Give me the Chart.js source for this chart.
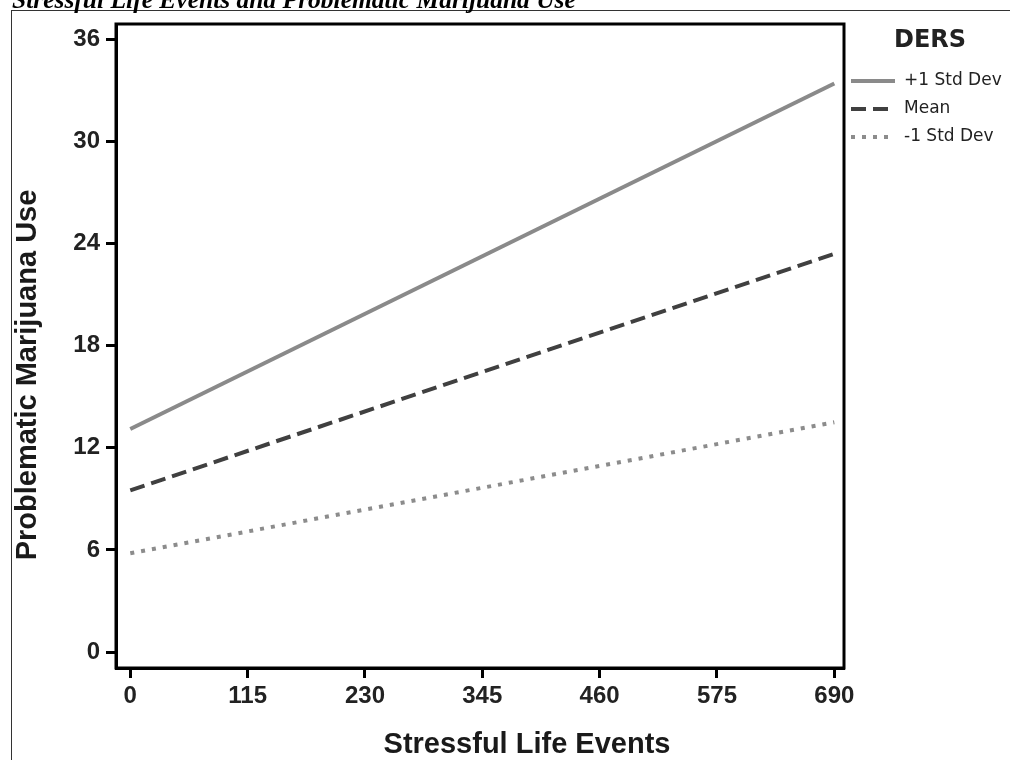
<!DOCTYPE html>
<html>
<head>
<meta charset="utf-8">
<script src="https://cdn.jsdelivr.net/npm/chart.js@4/dist/chart.umd.min.js"></script>
<style>
  html, body { margin: 0; padding: 0; background: #fff; }
  #wrap { width: 1010px; height: 760px; position: relative; }
</style>
</head>
<body>
<div id="wrap"><canvas id="c" width="1010" height="760"></canvas></div>
<script>
// ---- data ----
const titleText = "Stressful Life Events and Problematic Marijuana Use";
const xTitle = "Stressful Life Events";
const yTitle = "Problematic Marijuana Use";
const legendTitle = "DERS";
const seriesNames = ["+1 Std Dev", "Mean", "-1 Std Dev"];
const stressX = [0, 690];
const plusOneSD = [13.1, 33.4];
const meanVals = [9.5, 23.4];
const minusOneSD = [5.8, 13.5];
const xTicks = [0, 115, 230, 345, 460, 575, 690];
const yTicks = [0, 6, 12, 18, 24, 30, 36];

const tickFont = { family: "'Liberation Sans', Arial, sans-serif", size: 24, weight: 'bold' };

function pts(ys) { return stressX.map((x, i) => ({ x: x, y: ys[i] })); }

const framePlugin = {
  id: 'frame',
  afterDraw(chart) {
    const ctx = chart.ctx;
    const a = chart.chartArea;
    ctx.save();
    // outer page border
    ctx.strokeStyle = '#333';
    ctx.lineWidth = 1;
    ctx.strokeRect(11.5, 10.5, 1010, 760);
    // plot frame
    ctx.strokeStyle = '#000';
    ctx.lineWidth = 3;
    ctx.strokeRect(a.left, a.top, a.right - a.left, a.bottom - a.top);
    // title (cut at top)
    ctx.fillStyle = '#000';
    ctx.font = "italic bold 25.5px 'Liberation Serif', 'Times New Roman', serif";
    ctx.textBaseline = 'alphabetic';
    ctx.textAlign = 'left';
    ctx.fillText(titleText, 12, 8);
    // axis titles
    ctx.fillStyle = '#1a1a1a';
    ctx.font = "bold 29px 'Liberation Sans', Arial, sans-serif";
    ctx.textAlign = 'center';
    ctx.fillText(xTitle, 527, 753);
    ctx.save();
    ctx.translate(36, 375);
    ctx.rotate(-Math.PI / 2);
    ctx.fillText(yTitle, 0, 0);
    ctx.restore();
    // legend
    ctx.font = "bold 24px 'DejaVu Sans', sans-serif";
    ctx.fillStyle = '#222';
    ctx.textAlign = 'center';
    ctx.textBaseline = 'middle';
    ctx.fillText(legendTitle, 930, 41);
    ctx.font = "17px 'DejaVu Sans', sans-serif";
    ctx.textAlign = 'left';
    chart.data.datasets.forEach((ds, i) => {
      const y = 81 + i * 28;
      ctx.save();
      ctx.strokeStyle = ds.borderColor;
      ctx.lineWidth = ds.borderWidth;
      ctx.setLineDash(ds.borderDash || []);
      ctx.beginPath();
      ctx.moveTo(851, y);
      ctx.lineTo(895, y);
      ctx.stroke();
      ctx.restore();
      ctx.fillStyle = '#222';
      ctx.fillText(ds.label, 904, y);
    });
    ctx.restore();
  }
};

new Chart(document.getElementById('c'), {
  type: 'line',
  data: {
    datasets: [
      { label: seriesNames[0], data: pts(plusOneSD), borderColor: '#8a8a8a', borderWidth: 4, borderDash: [], pointRadius: 0, fill: false, borderCapStyle: 'butt' },
      { label: seriesNames[1], data: pts(meanVals), borderColor: '#404040', borderWidth: 4, borderDash: [15, 7], pointRadius: 0, fill: false, borderCapStyle: 'butt' },
      { label: seriesNames[2], data: pts(minusOneSD), borderColor: '#8c8c8c', borderWidth: 4, borderDash: [4, 7], pointRadius: 0, fill: false, borderCapStyle: 'butt' }
    ]
  },
  options: {
    responsive: false,
    animation: false,
    devicePixelRatio: 1,
    layout: { padding: { left: 0, top: 24, right: 166, bottom: 0 } },
    plugins: { legend: { display: false }, tooltip: { enabled: false }, title: { display: false } },
    scales: {
      x: {
        type: 'linear',
        min: -14,
        max: 699.5,
        afterBuildTicks(scale) { scale.ticks = xTicks.map(v => ({ value: v })); },
        afterFit(scale) { scale.height = 92; },
        ticks: { font: tickFont, color: '#222', padding: 4, maxRotation: 0, autoSkip: false, callback: v => String(v) },
        grid: { drawOnChartArea: false, drawTicks: true, tickLength: 10, tickWidth: 3, color: '#000' },
        border: { display: true, color: '#000', width: 3 }
      },
      y: {
        type: 'linear',
        min: -0.94,
        max: 36.9,
        afterBuildTicks(scale) { scale.ticks = yTicks.map(v => ({ value: v })); },
        afterFit(scale) { scale.width = 116; },
        ticks: { font: tickFont, color: '#222', padding: 6, autoSkip: false, callback: v => String(v) },
        grid: { drawOnChartArea: false, drawTicks: true, tickLength: 10, tickWidth: 3, color: '#000' },
        border: { display: true, color: '#000', width: 3 }
      }
    }
  },
  plugins: [framePlugin]
});
</script>
</body>
</html>
